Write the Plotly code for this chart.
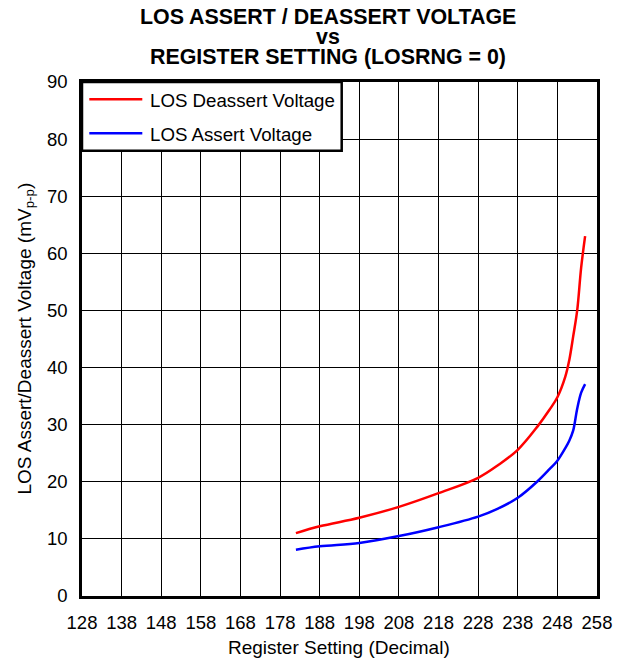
import plotly.graph_objects as go

# ---- data ----
register_setting = [182, 188, 198, 208, 218, 228, 233, 238, 243, 246, 248, 250, 251, 252, 253, 254, 255]
deassert_mv = [11.0, 12.2, 13.7, 15.6, 18.0, 20.7, 22.9, 25.6, 29.7, 32.6, 34.8, 38.4, 41.3, 45.5, 50.0, 57.5, 63.0]
assert_mv = [8.1, 8.7, 9.3, 10.5, 12.05, 13.9, 15.3, 17.2, 20.1, 22.2, 23.7, 25.9, 27.2, 29.0, 32.8, 35.6, 37.1]

x_ticks = [128, 138, 148, 158, 168, 178, 188, 198, 208, 218, 228, 238, 248, 258]
y_ticks = [0, 10, 20, 30, 40, 50, 60, 70, 80, 90]

series_names = ["LOS Deassert Voltage", "LOS Assert Voltage"]
series_colors = ["#FF0000", "#0000FF"]

title_lines = ["LOS ASSERT / DEASSERT VOLTAGE", "vs", "REGISTER SETTING (LOSRNG = 0)"]
x_title = "Register Setting (Decimal)"
y_title = "LOS Assert/Deassert Voltage (mV<sub>p-p</sub>)"

FONT = "Liberation Sans, Arial, sans-serif"

W, H = 627, 662
L, R, T, B = 82, 30, 82, 66
PW, PH = W - L - R, H - T - B


def px_x(p):
    return (p - L) / PW


def px_y(p):
    return (H - B - p) / PH


fig = go.Figure()
for name, vals, col in zip(series_names, [deassert_mv, assert_mv], series_colors):
    fig.add_trace(go.Scatter(
        x=register_setting, y=vals, mode="lines", name=name,
        line=dict(color=col, width=2.5, shape="spline", smoothing=1.0),
        showlegend=False,
    ))

axis_common = dict(
    showline=True, linecolor="black", linewidth=2.5, mirror=True,
    showgrid=True, gridcolor="#000000", gridwidth=1,
    zeroline=False, ticks="",
    tickfont=dict(family=FONT, size=18.5, color="black"),
)

fig.update_xaxes(range=[128, 258], tickvals=x_ticks, ticktext=[str(v) for v in x_ticks],
                 ticklabelstandoff=8, **axis_common)
fig.update_yaxes(range=[0, 90], tickvals=y_ticks, ticktext=[str(v) for v in y_ticks],
                 ticklabelstandoff=8, **axis_common)

annotations = []
# title
for text, yc in zip(title_lines, [17, 37, 57]):
    annotations.append(dict(
        text=f"<b>{text}</b>", x=px_x(327.5), y=px_y(yc), xref="paper", yref="paper",
        xanchor="center", yanchor="middle", showarrow=False,
        font=dict(family=FONT, size=21.4, color="black"),
    ))
# axis titles
annotations.append(dict(
    text=x_title, x=px_x(338.5), y=px_y(647), xref="paper", yref="paper",
    xanchor="center", yanchor="middle", showarrow=False,
    font=dict(family=FONT, size=19, color="black"),
))
annotations.append(dict(
    text=y_title, x=px_x(25), y=px_y(338.5), xref="paper", yref="paper",
    xanchor="center", yanchor="middle", showarrow=False, textangle=-90,
    font=dict(family=FONT, size=19, color="black"),
))

# legend box
shapes = [dict(type="rect", xref="paper", yref="paper",
               x0=px_x(82), x1=px_x(341.7), y0=px_y(150.7), y1=1,
               line=dict(color="black", width=2.5), fillcolor="white", layer="above")]
for name, col, yc in zip(series_names, series_colors, [99.3, 133.3]):
    shapes.append(dict(type="line", xref="paper", yref="paper",
                       x0=px_x(89.3), x1=px_x(142.3), y0=px_y(yc), y1=px_y(yc),
                       line=dict(color=col, width=2.5), layer="above"))
    annotations.append(dict(
        text=name, x=px_x(147.7), y=px_y(yc + 1), xref="paper", yref="paper",
        xanchor="left", yanchor="middle", showarrow=False,
        font=dict(family=FONT, size=18.7, color="black"),
    ))

fig.update_layout(
    width=W, height=H,
    margin=dict(l=L, r=R, t=T, b=B, pad=0),
    paper_bgcolor="white", plot_bgcolor="white",
    annotations=annotations, shapes=shapes,
    showlegend=False,
)

fig.write_html("out.html", config={"displayModeBar": False},
               post_script="document.body.style.margin='0';document.body.style.padding='0';")
